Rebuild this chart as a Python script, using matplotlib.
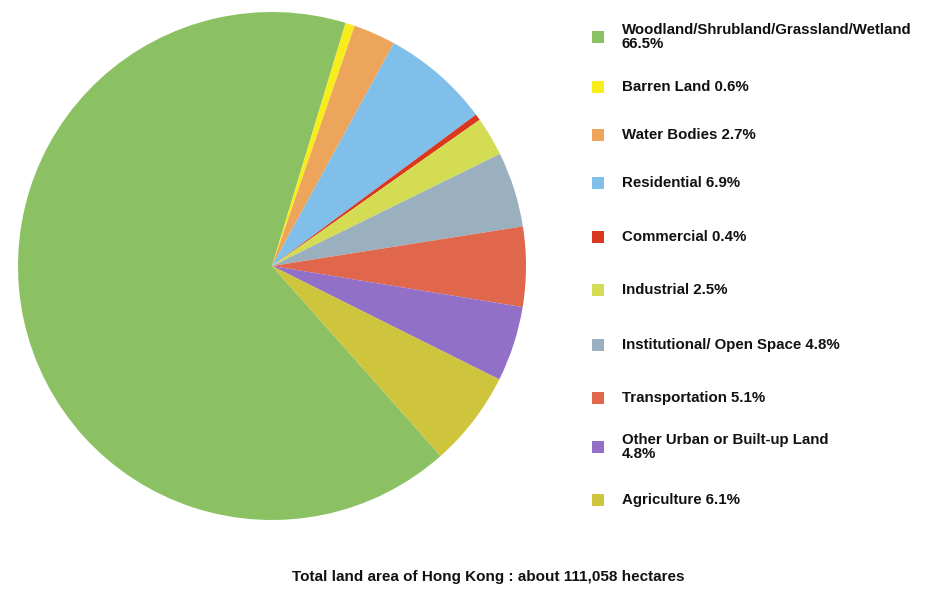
import matplotlib.pyplot as plt
from matplotlib.patches import Rectangle

# land use categories (legend order = slice order, clockwise)
categories = ['Woodland/Shrubland/Grassland/Wetland', 'Barren Land', 'Water Bodies',
              'Residential', 'Commercial', 'Industrial', 'Institutional/ Open Space',
              'Transportation', 'Other Urban or Built-up Land', 'Agriculture']
shares = [66.5, 0.6, 2.7, 6.9, 0.4, 2.5, 4.8, 5.1, 4.8, 6.1]
legend_labels = ['Woodland/Shrubland/Grassland/Wetland\n66.5%', 'Barren Land 0.6%',
                 'Water Bodies 2.7%', 'Residential 6.9%', 'Commercial 0.4%',
                 'Industrial 2.5%', 'Institutional/ Open Space 4.8%',
                 'Transportation 5.1%', 'Other Urban or Built-up Land\n4.8%',
                 'Agriculture 6.1%']
colors = ['#8bc163', '#f7ec1c', '#eda55c', '#7fbfea', '#d9381e', '#d3dc52',
          '#9bb0bf', '#e0674b', '#9270c8', '#cfc53d']

W, H = 938, 591
fig = plt.figure(figsize=(W / 100, H / 100), dpi=100)
fig.patch.set_facecolor('white')

# pie area in pixel terms: left 18, top 12, size 508
ax = fig.add_axes([18 / W, (H - 12 - 508) / H, 508 / W, 508 / H])
ax.pie(shares, colors=colors, startangle=-48.4, counterclock=False,
       wedgeprops=dict(linewidth=0))
ax.set_xlim(-1.0, 1.0)
ax.set_ylim(-1.0, 1.0)
ax.set_aspect('equal')
ax.axis('off')

# hand-made legend on the right
legend_y = [37, 87, 135, 183, 237, 290, 345, 398, 447, 500]
for lab, col, y in zip(legend_labels, colors, legend_y):
    fig.patches.append(Rectangle((592 / W, (H - y - 6) / H), 12 / W, 12 / H,
                                 transform=fig.transFigure, facecolor=col,
                                 edgecolor='none'))
    fig.text(622 / W, (H - y) / H, lab, ha='left', va='center',
             fontsize=10.8, fontweight='bold', family='Liberation Sans',
             linespacing=0.95, color='#111111')

fig.text(488 / W, (H - 577) / H,
         'Total land area of Hong Kong : about 111,058 hectares',
         ha='center', va='center', fontsize=11, fontweight='bold',
         family='Liberation Sans', color='#111111')

fig.savefig('out.png', dpi=100, facecolor='white')
